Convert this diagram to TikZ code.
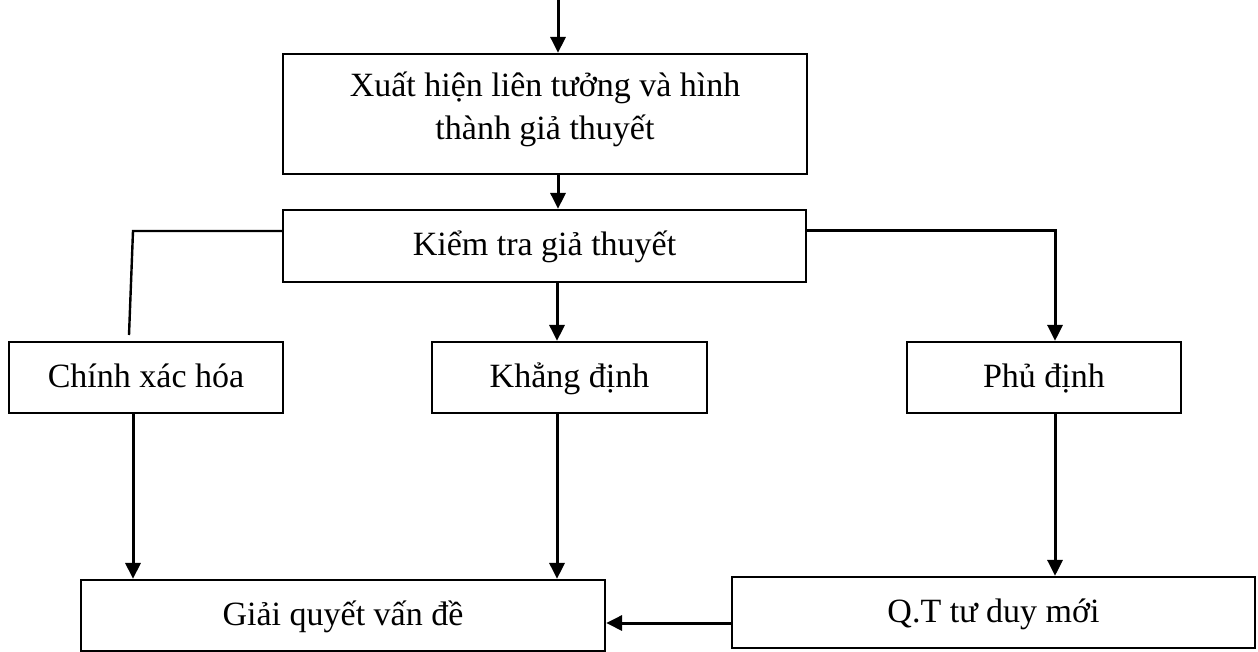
\documentclass[tikz,border=0pt]{standalone}
\usepackage{fontspec}
\setmainfont{Liberation Serif}
\usetikzlibrary{arrows.meta}
\tikzset{
  % khung chu nhat cua cac buoc
  blk/.style={rectangle, draw=black, line width=2.2pt, minimum width=524pt,
              minimum height=71pt, inner sep=0pt, align=center,
              font=\fontsize{34}{43}\selectfont},
  % khung mot dong chu
  sbk/.style={blk, text height=24pt, text depth=4pt},
  ar/.style={-{Triangle[length=16pt, width=15pt]}, line width=3pt},
  ln/.style={line width=2.4pt}
}
\begin{document}
\begin{tikzpicture}[x=1pt, y=-1pt]
    \useasboundingbox (0,0) rectangle (1258,652);
    \node[blk, minimum height=120pt] (xh) at (545,114) {Xuất hiện liên tưởng và hình\\thành giả thuyết\rule[-16pt]{0pt}{1pt}};
    \node[sbk, minimum width=523pt, minimum height=72pt] (kt) at (544.5,246) {Kiểm tra giả thuyết};
    \node[sbk, minimum width=274pt] (cx) at (146,377.5) {Chính xác hóa};
    \node[sbk, minimum width=275pt] (kd) at (569.5,377.5) {Khẳng định};
    \node[sbk, minimum width=274pt] (pd) at (1044,377.5) {Phủ định};
    \node[sbk] (gq) at (343,615.5) {Giải quyết vấn đề};
    \node[sbk, minimum width=523pt] (qt) at (993.5,612.5) {Q.T tư duy mới};
    \coordinate (in0) at (558,0);
    \coordinate (mid) at (557,0);
    \coordinate (tl) at (133,231);
    \coordinate (tlb) at (129,335);
    \coordinate (tr) at (1055,231);
    \coordinate (low) at (0,623);
    \draw[ar] (in0) -- (in0 |- xh.north);
    \draw[ar] (in0 |- xh.south) -- (in0 |- kt.north);
    \draw[ar] (mid |- kt.south) -- (mid |- kd.north);
    \draw[ln] (tl -| kt.west) -- (tl) -- (tlb);
    \draw[ar] (tr -| kt.east) -- (tr) -- (tr |- pd.north);
    \draw[ar] (tl |- cx.south) -- (tl |- gq.north);
    \draw[ar] (mid |- kd.south) -- (mid |- gq.north);
    \draw[ar] (tr |- pd.south) -- (tr |- qt.north);
    \draw[ar] (low -| qt.west) -- (low -| gq.east);
\end{tikzpicture}
\end{document}
